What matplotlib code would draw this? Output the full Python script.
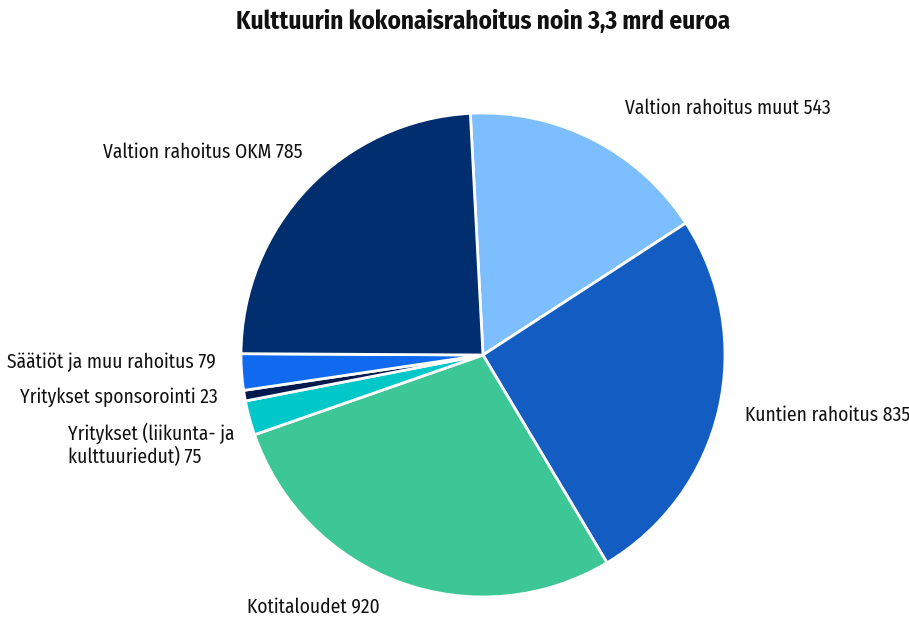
import matplotlib
matplotlib.use("Agg")
import matplotlib.pyplot as plt

labels = ["Valtion rahoitus muut 543", "Kuntien rahoitus 835", "Kotitaloudet 920",
          "Yritykset (liikunta- ja\nkulttuuriedut) 75", "Yritykset sponsorointi 23",
          "Säätiöt ja muu rahoitus 79", "Valtion rahoitus OKM 785"]
values = [543, 835, 920, 75, 23, 79, 785]
colors = ["#7CBEFF", "#135DC2", "#3DC797", "#00C8C8", "#001A4D", "#0F6AF0", "#002E6E"]

# label anchor positions (in pie-radius units) and alignment — layout only
label_pos = [(0.587, 1.02, "left"), (1.083, -0.248, "left"), (-0.426, -1.045, "right"),
             (-1.025, -0.372, "right"), (-1.095, -0.174, "right"), (-1.103, -0.029, "right"),
             (-0.744, 0.839, "right")]

plt.rcParams['font.family'] = ['Fira Sans Condensed', 'DejaVu Sans']

W, H = 909, 622
fig = plt.figure(figsize=(W / 100, H / 100), dpi=100)
cx, cy, R = 483, 355, 242
side = 2.5 * R
ax = fig.add_axes([(cx - side / 2) / W, (H - cy - side / 2) / H, side / W, side / H])

wedges, texts = ax.pie(values, labels=labels, colors=colors, startangle=93, counterclock=False,
                       wedgeprops=dict(edgecolor="white", linewidth=2),
                       textprops=dict(fontsize=14, color="#111111"))
ax.set_xlim(-1.25, 1.25)
ax.set_ylim(-1.25, 1.25)
for t, (x, y, ha) in zip(texts, label_pos):
    t.set_position((x, y))
    t.set_ha(ha)
    t.set_va("center")
    t.set_multialignment("left")
    t.set_clip_on(False)

fig.text(cx / W, 1 - 22 / H, "Kulttuurin kokonaisrahoitus noin 3,3 mrd euroa",
         ha="center", va="center", fontsize=18, fontweight="bold", color="#111111")

fig.savefig("out.png", dpi=100)
